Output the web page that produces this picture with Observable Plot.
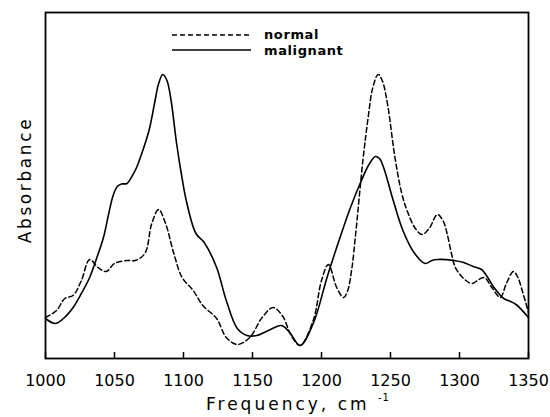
<!DOCTYPE html>
<html>
<head>
<meta charset="utf-8">
<script src="https://cdn.jsdelivr.net/npm/d3@7"></script>
<script src="https://cdn.jsdelivr.net/npm/@observablehq/plot@0.6"></script>
<style>
  body { margin: 0; background: #fff; }
  #wrap { position: relative; width: 550px; height: 417px; font-family: "DejaVu Sans", sans-serif; color: #000; }
  #xlabel { position: absolute; left: 206px; top: 396px; font-size: 17px; line-height: 1; letter-spacing: 3px; white-space: nowrap; }
  #xlabel sup { font-size: 10px; line-height: 1; vertical-align: baseline; position: relative; top: -9px; letter-spacing: 1px; }
  #ylabel { position: absolute; left: 25px; top: 180px; font-size: 17px; letter-spacing: 2.6px; white-space: nowrap; transform: translate(-50%, -50%) rotate(-90deg); }
  #legend { position: absolute; left: 172px; top: 27px; font-size: 13px; font-weight: bold; letter-spacing: 0.6px; }
  #legend div { display: flex; align-items: center; height: 15.5px; }
  #legend svg { margin-right: 13px; }
</style>
</head>
<body>
<div id="wrap">
  <div id="chart"></div>
  <div id="ylabel">Absorbance</div>
  <div id="xlabel">Frequency,&nbsp;cm&nbsp;<sup>-1</sup></div>
  <div id="legend">
    <div><svg width="79" height="4"><line x1="0" y1="2" x2="79" y2="2" stroke="#000" stroke-width="1.5" stroke-dasharray="5,3"/></svg>normal</div>
    <div><svg width="79" height="4"><line x1="0" y1="2" x2="79" y2="2" stroke="#000" stroke-width="1.5"/></svg>malignant</div>
  </div>
</div>
<script>
// Frequency (cm^-1) and absorbance (arbitrary units)
const malignantFreq = [1000,1007,1013,1020,1026,1032,1037,1042,1046,1049,1052,1055,1059,1063,1066,1070,1075,1079,1082,1085,1088,1091,1095,1099,1102,1109,1115,1124,1131,1139,1146,1153,1163,1171,1177,1184.5,1194,1204,1211,1221,1228,1234,1239,1242,1245,1252,1259,1267,1275,1280,1284,1296,1303,1310,1316,1320,1325,1332,1337,1341,1350];
const malignantAbs  = [40,35,40,51,65,81,100,121,146,163,172,174.5,175,183,191,206,228,255,275,284,278,258,215,180,158,125,116,91,58,30,23,23,29,33,26,13,35,81,111,151,175,193,202,200,191,158,128,106,95,98,99,98,96,92,89,82,71,60,57,54,41];
const normalFreq = [1000,1008,1014,1020,1026,1032,1038,1044,1050,1059,1065,1072,1077,1082,1087,1093,1099,1107,1114,1124,1131,1139,1148,1157,1165,1172,1178,1184.5,1194,1200,1205,1211,1216,1219,1222,1225,1230,1234,1237,1241,1244,1248,1253,1258,1262,1268,1273,1278,1284,1288,1291,1294,1297,1303,1309,1314,1318,1323.5,1329.5,1334,1339,1342,1345,1350];
const normalAbs  = [41,48,60,63,78,99,91,87,95,98,98,105,135,149,135,105,81,68,53,40,21,14,21,41,51,42,23,13,38,78,94,71,61,68,90,128,198,243,270,284,278,253,203,166,148,130,124,130,144,138,125,106,91,80,75,79,81,71,61,75,87,82,70,46];
const xTicks = [1000,1050,1100,1150,1200,1250,1300,1350];

const data = [
  ...malignantFreq.map((f, i) => ({freq: f, abs: malignantAbs[i], series: "malignant"})),
  ...normalFreq.map((f, i) => ({freq: f, abs: normalAbs[i], series: "normal"}))
];

const chart = Plot.plot({
  width: 550,
  height: 417,
  marginLeft: 45,
  marginRight: 22,
  marginTop: 12,
  marginBottom: 59,
  style: {fontFamily: "DejaVu Sans, sans-serif", fontSize: "16px", color: "#000", background: "#fff"},
  x: {domain: [1000, 1350], ticks: xTicks, tickFormat: d => String(d), label: null},
  y: {domain: [0, 346], axis: null},
  marks: [
    Plot.axisX({ticks: xTicks, tickSize: 0, tickPadding: 16, tickFormat: d => String(d), label: null, fontSize: 16}),
    Plot.ruleX(xTicks, {x: d => d, y1: 0, y2: 6, stroke: "#000", strokeWidth: 1.5}),
    Plot.line(data.filter(d => d.series === "normal"), {x: "freq", y: "abs", stroke: "#000", strokeWidth: 1.5, strokeDasharray: "5,3", curve: "catmull-rom"}),
    Plot.line(data.filter(d => d.series === "malignant"), {x: "freq", y: "abs", stroke: "#000", strokeWidth: 1.6, curve: "catmull-rom"}),
    Plot.frame({stroke: "#000", strokeWidth: 1.8})
  ]
});
document.getElementById("chart").appendChild(chart);
</script>
</body>
</html>
